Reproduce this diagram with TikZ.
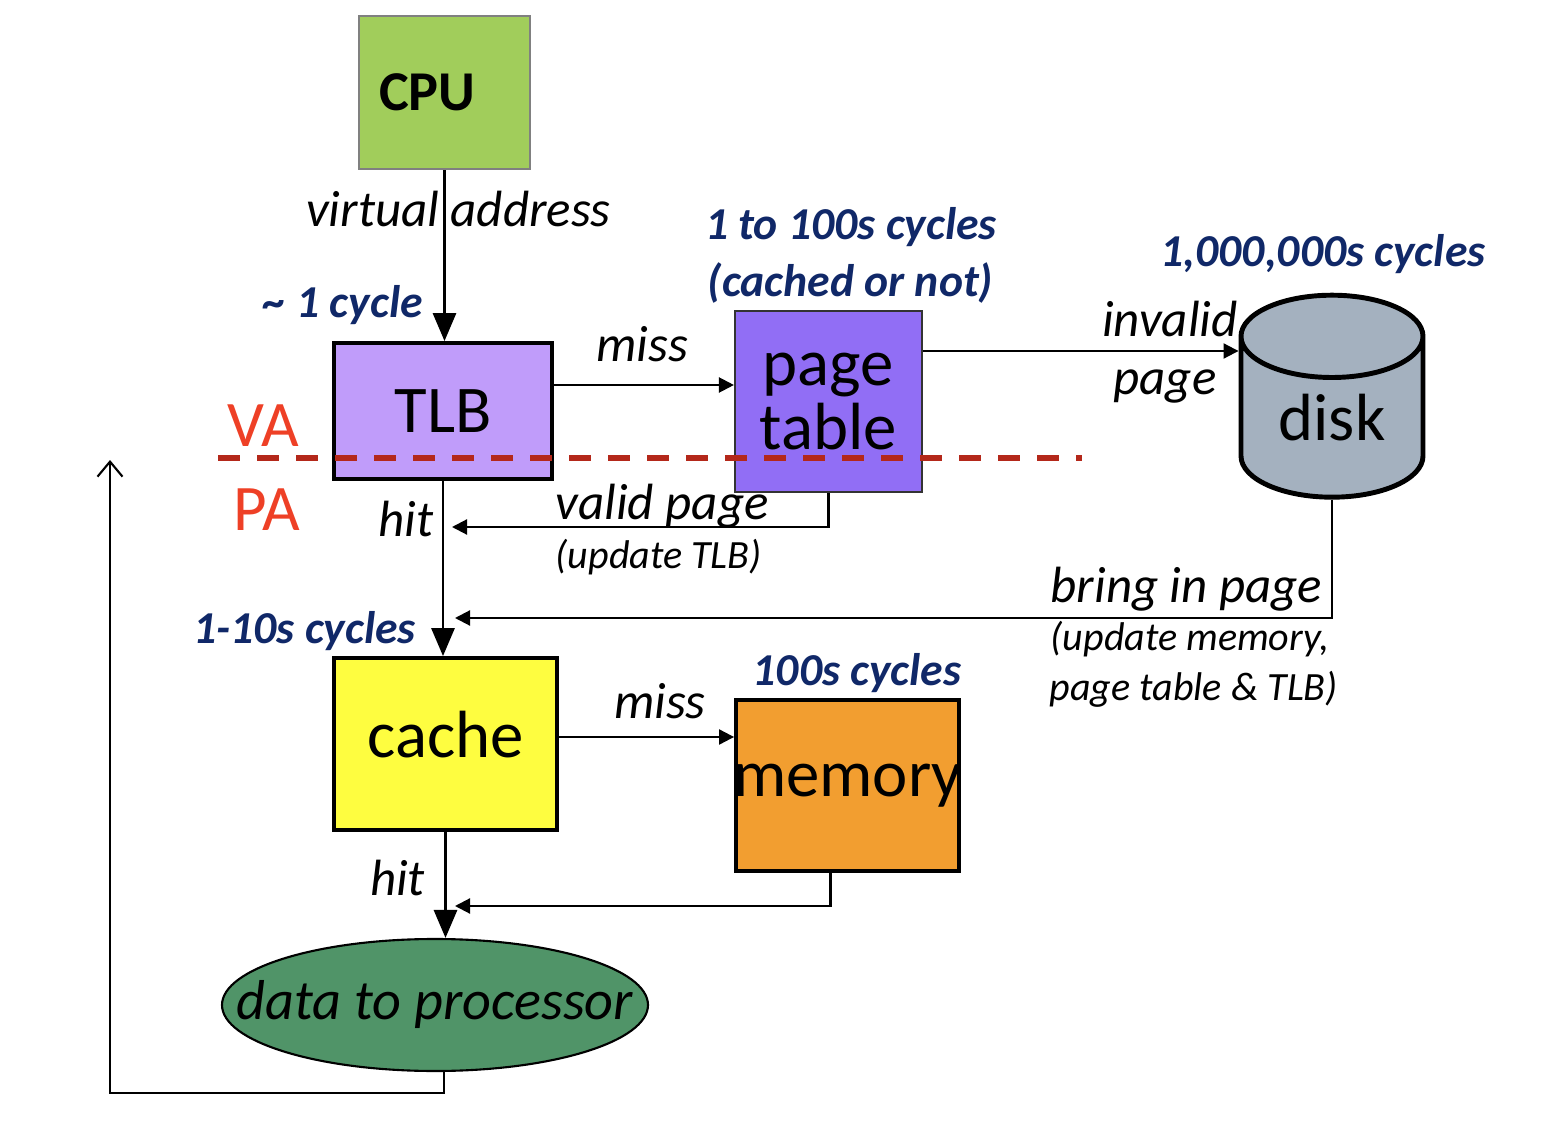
\documentclass[tikz,border=0pt]{standalone}
\usepackage{fontspec}
\setmainfont{Carlito}
\usepackage{xcolor}
\usepackage{tikz}
\usetikzlibrary{shapes.geometric, arrows.meta}

\definecolor{cpugreen}{RGB}{161,205,91}
\definecolor{tlbviolet}{RGB}{192,156,250}
\definecolor{ptviolet}{RGB}{145,110,245}
\definecolor{diskgray}{RGB}{164,177,191}
\definecolor{cacheyellow}{RGB}{254,253,64}
\definecolor{memorange}{RGB}{242,158,48}
\definecolor{datagreen}{RGB}{80,148,104}
\definecolor{cyclesblue}{RGB}{16,40,104}
\definecolor{vared}{RGB}{238,64,38}
\definecolor{dashred}{RGB}{180,40,26}

\begin{document}
\begin{tikzpicture}[
            bigtext/.style={font=\fontsize{19}{18}\selectfont},
            box/.style={draw, rectangle, black, line width=1.1pt, bigtext, inner sep=0pt},
            tag/.style={font=\fontsize{14.5}{16}\selectfont\itshape, inner sep=0pt, anchor=base},
            smalltag/.style={font=\fontsize{11.4}{13}\selectfont\itshape, inner sep=0pt, anchor=base west},
            cycles/.style={font=\fontsize{13}{15}\selectfont\bfseries\itshape, text=cyclesblue, inner sep=0pt, anchor=base},
            addr/.style={font=\fontsize{18.5}{20}\selectfont, text=vared, inner sep=0pt, anchor=base},
            mainline/.style={black, line width=0.85pt, -{Triangle[length=0.28cm, width=0.23cm]}},
            sideline/.style={black, line width=0.6pt, -{Triangle[length=0.15cm, width=0.15cm]}}
            ]
            \useasboundingbox (0,0) rectangle (15.58,-11.26);
            \node[draw=gray, line width=0.6pt, fill=cpugreen, minimum width=1.71cm, minimum height=1.53cm, text width=1.31cm, align=left, inner xsep=0.2cm, font=\fontsize{16}{18}\selectfont\bfseries] (cpu) at (4.445,-0.925) {CPU};
            \node[box, fill=tlbviolet, minimum width=2.18cm, minimum height=1.36cm] (tlb) at (4.43,-4.11) {TLB};
            \node[box, fill=ptviolet, draw=black!80, line width=0.6pt, minimum width=1.87cm, minimum height=1.81cm, align=center] (pt) at (8.285,-4.015) {page\\table};
            \node[cylinder, shape border rotate=90, aspect=0.77, draw, line width=1.4pt, fill=diskgray, minimum width=1.82cm, minimum height=2.02cm, bigtext, inner sep=0pt] (disk) at (13.32,-4.18) {disk};
            \node[box, fill=cacheyellow, minimum width=2.23cm, minimum height=1.72cm, text depth=0.2cm] (cache) at (4.455,-7.44) {cache};
            \node[box, fill=memorange, minimum width=2.23cm, minimum height=1.71cm] (mem) at (8.475,-7.855) {\makebox[0pt]{memory}};
            \node[ellipse, draw, line width=0.6pt, fill=datagreen, minimum width=4.26cm, minimum height=1.32cm, inner sep=0pt, font=\fontsize{16}{18}\selectfont\itshape] (data) at (4.35,-10.05) {\makebox[0pt]{data to processor}};

            \node[tag] (virtual) at (4.585,-2.27) {virtual address};
            \node[cycles] (tlbcycles) at (3.43,-3.18) {\textasciitilde{} 1 cycle};
            \node[cycles] (ptcycles) at (8.51,-2.40) {1 to 100s cycles};
            \node[cycles] (ptcached) at (8.505,-2.97) {(cached or not)};
            \node[cycles] (diskcycles) at (13.23,-2.67) {1,000,000s cycles};
            \node[tag] (tlbmiss) at (6.425,-3.62) {miss};
            \node[tag] (invalid) at (11.70,-3.37) {invalid};
            \node[tag] (invalidpage) at (11.65,-3.95) {page};
            \node[addr] (va) at (2.63,-4.47) {VA};
            \node[addr] (pa) at (2.665,-5.31) {PA};
            \node[tag] (tlbhit) at (4.06,-5.37) {hit};
            \node[tag, anchor=base west] (valid) at (5.55,-5.20) {valid page};
            \node[smalltag] (updatetlb) at (5.55,-5.68) {(update TLB)};
            \node[tag, anchor=base west] (bring) at (10.50,-6.02) {bring in page};
            \node[smalltag] (updatemem) at (10.50,-6.50) {(update memory,};
            \node[smalltag] (updateall) at (10.49,-7.00) {page table \& TLB)};
            \node[cycles] (cachecycles) at (3.045,-6.43) {1-10s cycles};
            \node[tag] (cachemiss) at (6.60,-7.18) {miss};
            \node[cycles] (memcycles) at (8.57,-6.85) {100s cycles};
            \node[tag] (cachehit) at (3.975,-8.95) {hit};

            \coordinate (validend) at (4.52,-5.27);
            \coordinate (bringend) at (4.55,-6.18);
            \coordinate (memend) at (4.55,-9.06);
            \coordinate (backcorner) at (1.10,-10.93);
            \coordinate (backend) at (1.10,-4.60);
            \coordinate (splitleft) at (2.18,-4.58);
            \coordinate (splitright) at (10.82,-4.58);

            \draw[mainline] (cpu.south) -- (cpu.south |- tlb.north);
            \draw[mainline] (tlb.south) -- (tlb.south |- cache.north);
            \draw[mainline] (cache.south) -- (cache.south |- data.north);
            \draw[sideline] ([yshift=0.26cm]tlb.east) -- ([yshift=0.26cm]tlb.east -| pt.west);
            \draw[sideline] ([yshift=0.505cm]pt.east) -- ([yshift=0.505cm]pt.east -| disk.west);
            \draw[sideline] (pt.south) |- (validend);
            \draw[sideline] (disk.south) |- (bringend);
            \draw[sideline] ([yshift=0.07cm]cache.east) -- ([yshift=0.07cm]cache.east -| mem.west);
            \draw[sideline] ([xshift=-0.17cm]mem.south) |- (memend);
            \draw[black, line width=0.6pt, -{Straight Barb[length=0.15cm, width=0.25cm]}] ([xshift=0.09cm]data.south) |- (backcorner) -- (backend);
            \draw[dashred, line width=1.7pt, dash pattern=on 0.22cm off 0.17cm] (splitleft) -- (splitright);
\end{tikzpicture}
\end{document}
